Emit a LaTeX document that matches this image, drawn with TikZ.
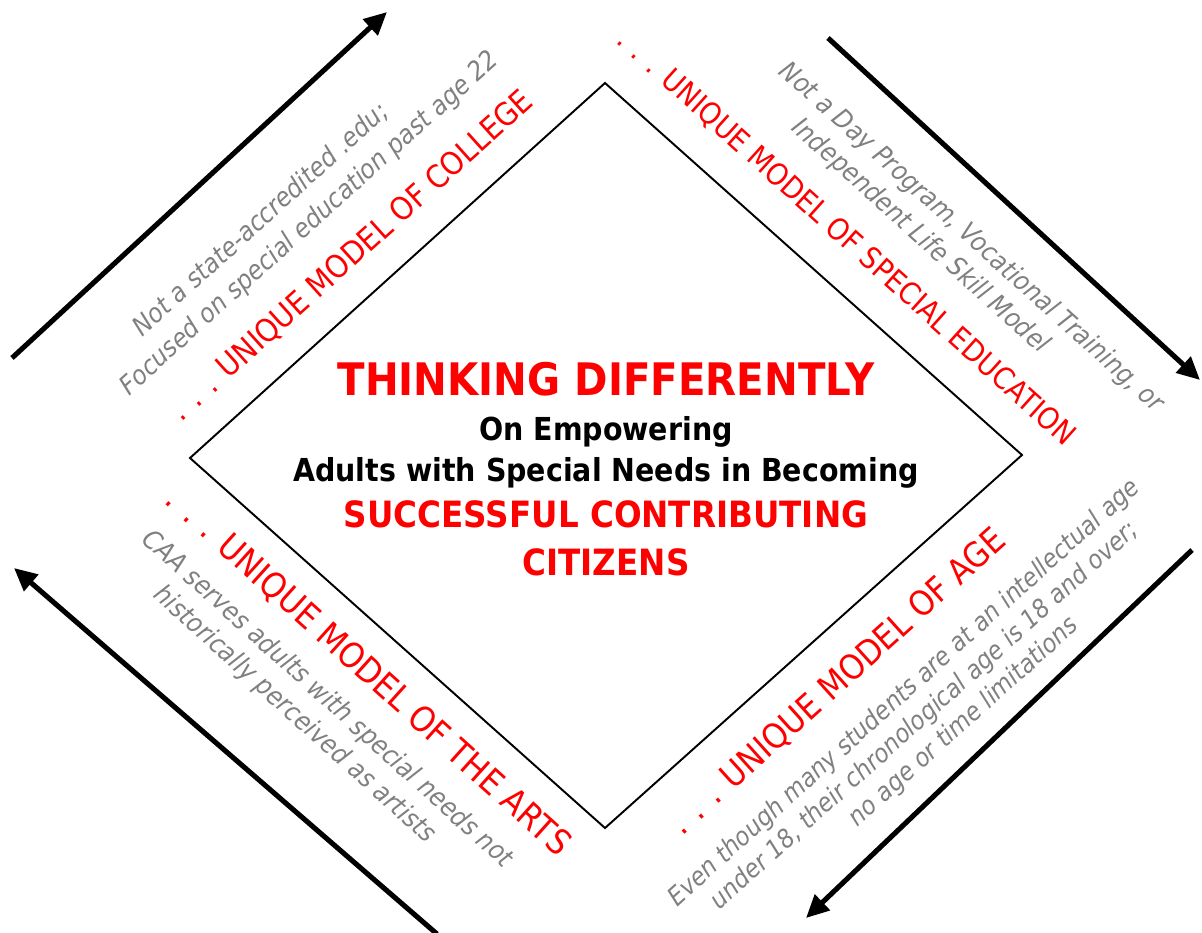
\documentclass[tikz,border=0pt]{standalone}
\usepackage{fontspec}
\setmainfont{DejaVu Sans}[FakeStretch=0.9]
\usetikzlibrary{arrows.meta}
\tikzset{
    bigarrow/.style={line width=2.9pt, -{Triangle[length=13pt,width=12pt]}},
    modeltext/.style={text=red, inner sep=0pt},
    notetext/.style={text=gray, inner sep=0pt, align=center, font=\itshape\fontsize{15}{#1}\selectfont},
    notetext/.default=19,
    titletext/.style={inner sep=0pt, anchor=base, font=\bfseries\fontsize{#1}{#1}\selectfont}
}
\begin{document}
\begin{tikzpicture}[x=0.02cm,y=-0.02cm]
        \useasboundingbox (0,0) rectangle (1202,932);
        % diamond
        \coordinate (top) at (605,83);
        \coordinate (right) at (1022,455);
        \coordinate (bottom) at (605,828);
        \coordinate (left) at (190,458);
        \draw[line width=1.1pt] (top) -- (right) -- (bottom) -- (left) -- cycle;
        % arrows round it
        \coordinate (tlA) at (12,358);   \coordinate (tlB) at (387,12);
        \coordinate (trA) at (828,38);   \coordinate (trB) at (1200,380);
        \coordinate (brA) at (1192,550); \coordinate (brB) at (806,918);
        \coordinate (blA) at (437,934);  \coordinate (blB) at (14,568);
        \foreach \a/\b in {tlA/tlB, trA/trB, brA/brB, blA/blB}
        {
                \draw[bigarrow] (\a) -- (\b);
        }
        % centre
        \node[titletext=25.5, text=red] (think) at (606,395) {THINKING DIFFERENTLY};
        \node[titletext=18] (empower) at (606,440) {On Empowering};
        \node[titletext=18] (adults) at (606,481) {Adults with Special Needs in Becoming};
        \node[titletext=20.6, text=red] (success) at (606,527) {SUCCESSFUL CONTRIBUTING};
        \node[titletext=20.6, text=red] (citizens) at (606,575) {CITIZENS};
        % four sides
        \node[modeltext, rotate=42, font=\fontsize{18}{20}\selectfont] (college) at (352,256) {. . . UNIQUE MODEL OF COLLEGE};
        \node[notetext=20, rotate=42] (collegenote) at (298,211) {Not a state-accredited .edu;\hspace*{38pt}\\Focused on special education past age 22};
        \node[modeltext, rotate=-42, font=\fontsize{17.1}{20}\selectfont] (speced) at (846,238) {. . . UNIQUE MODEL OF SPECIAL EDUCATION};
        \node[notetext, rotate=-42] (specednote) at (960,250) {Not a Day Program, Vocational Training, or\\Independent Life Skill Model\hspace*{44pt}};
        \node[modeltext, rotate=-42, font=\fontsize{19.8}{20}\selectfont] (arts) at (368,672) {. . . UNIQUE MODEL OF THE ARTS};
        \node[notetext, rotate=-42] (artsnote) at (316,712) {CAA serves adults with special needs not\\historically perceived as artists\hspace*{16pt}};
        \node[modeltext, rotate=42, font=\fontsize{19.6}{20}\selectfont] (age) at (838,682) {. . . UNIQUE MODEL OF AGE};
        \node[notetext=17.5, rotate=42, font=\itshape\fontsize{14.6}{17.5}\selectfont] (agenote) at (925,716) {Even though many students are at an intellectual age\\under 18, their chronological age is 18 and over;\\\hspace*{28pt}no age or time limitations};
\end{tikzpicture}
\end{document}
